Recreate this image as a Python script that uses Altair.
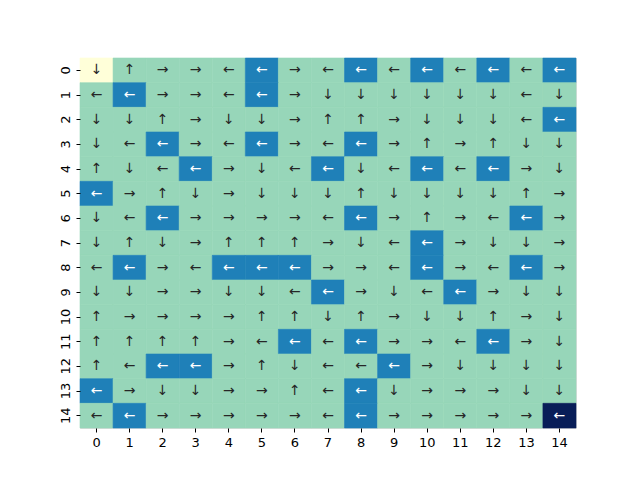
import altair as alt
import pandas as pd

# cell type: 0 = start, 1 = frozen, 2 = hole, 3 = goal
cells = [
    [0, 1, 1, 1, 1, 2, 1, 1, 2, 1, 2, 1, 2, 1, 2],
    [1, 2, 1, 1, 1, 2, 1, 1, 1, 1, 1, 1, 1, 1, 1],
    [1, 1, 1, 1, 1, 1, 1, 1, 1, 1, 1, 1, 1, 1, 2],
    [1, 1, 2, 1, 1, 2, 1, 1, 2, 1, 1, 1, 1, 1, 1],
    [1, 1, 1, 2, 1, 1, 1, 2, 1, 1, 2, 1, 2, 1, 1],
    [2, 1, 1, 1, 1, 1, 1, 1, 1, 1, 1, 1, 1, 1, 1],
    [1, 1, 2, 1, 1, 1, 1, 1, 2, 1, 1, 1, 1, 2, 1],
    [1, 1, 1, 1, 1, 1, 1, 1, 1, 1, 2, 1, 1, 1, 1],
    [1, 2, 1, 1, 2, 2, 2, 1, 1, 1, 2, 1, 1, 2, 1],
    [1, 1, 1, 1, 1, 1, 1, 2, 1, 1, 1, 2, 1, 1, 1],
    [1, 1, 1, 1, 1, 1, 1, 1, 1, 1, 1, 1, 1, 1, 1],
    [1, 1, 1, 1, 1, 1, 2, 1, 2, 1, 1, 1, 2, 1, 1],
    [1, 1, 2, 2, 1, 1, 1, 1, 1, 2, 1, 1, 1, 1, 1],
    [2, 1, 1, 1, 1, 1, 1, 1, 2, 1, 1, 1, 1, 1, 1],
    [1, 2, 1, 1, 1, 1, 1, 1, 2, 1, 1, 1, 1, 1, 3],
]

arrows = [
    "↓↑→→←←→←←←←←←←←",
    "←←→→←←→↓↓↓↓↓↓←↓",
    "↓↓↑→↓↓→↑↑→↓↓↓←←",
    "↓←←→←←→←←→↑→↑↓↓",
    "↑↓←←→↓←←↓←←←←→↓",
    "←→↑↓→↓↓↓↑↓↓↓↓↑→",
    "↓←←→→→→←←→↑→←←→",
    "↓↑↓→↑↑↑→↓←←→↓↓→",
    "←←→←←←←→→←←→←←→",
    "↓↓→→↓↓←←→↓←←→↓↓",
    "↑→→→→↑↑↓↑→↓↓↑→↓",
    "↑↑↑↑→←←←←→→←←→↓",
    "↑←←←→↑↓←←←→↓↓↓↓",
    "←→↓↓→→↑←←↓→→→↓↓",
    "←←→→→→→←←→→→→→←",
]

idx = list(range(15))
colors = ["#ffffd9", "#97d6b9", "#1f80b8", "#081d58"]

rows = []
for r in idx:
    for c in idx:
        v = cells[r][c]
        rows.append({
            "row": r, "col": c, "v": v,
            "a": arrows[r][c],
            "tc": "#ffffff" if v >= 2 else "#262626",
        })
df = pd.DataFrame(rows)

x = alt.X("col:O", scale=alt.Scale(domain=idx, paddingInner=0, paddingOuter=0),
          axis=alt.Axis(title=None, labelAngle=0, domain=False, grid=False,
                        tickSize=4, tickColor="#000000", labelPadding=4,
                        labelFontSize=13, labelColor="#000000",
                        labelFont="DejaVu Sans"))
y = alt.Y("row:O", scale=alt.Scale(domain=idx, paddingInner=0, paddingOuter=0),
          axis=alt.Axis(title=None, labelAngle=-90, domain=False, grid=False,
                        tickSize=4, tickColor="#000000", labelPadding=4,
                        labelFontSize=13, labelColor="#000000",
                        labelFont="DejaVu Sans", labelAlign="center",
                        labelBaseline="bottom"))

cscale = alt.Scale(domain=[0, 1, 2, 3], range=colors)
base = alt.Chart(df)
rect = base.mark_rect(strokeWidth=0.6).encode(
    x=x, y=y,
    color=alt.Color("v:O", scale=cscale, legend=None),
    stroke=alt.Stroke("v:O", scale=cscale, legend=None),
)
text = base.mark_text(fontSize=14, font="DejaVu Sans").encode(
    x=x, y=y,
    text="a:N",
    color=alt.Color("tc:N", scale=None),
)

chart = (rect + text).properties(
    width=496, height=370,
    autosize=alt.AutoSizeParams(type="none"),
    padding={"left": 72, "top": 50, "right": 56, "bottom": 52},
).configure_view(stroke=None).configure(background="#ffffff")

chart.save("out.html", embed_options={"renderer": "svg", "actions": False})
